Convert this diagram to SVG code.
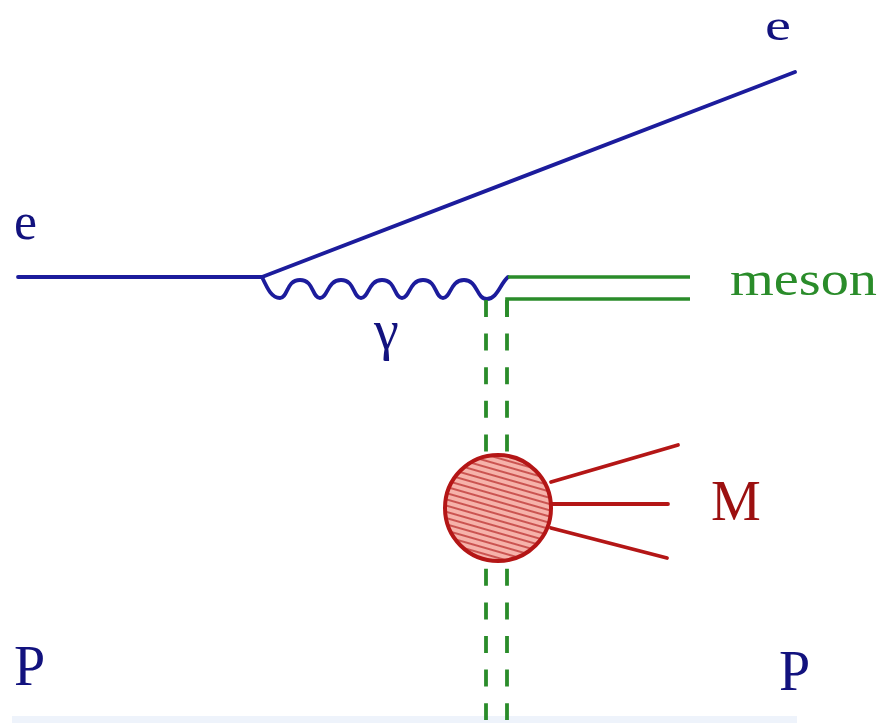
<svg xmlns="http://www.w3.org/2000/svg" width="879" height="723" viewBox="0 0 879 723">
<style>
.blue{stroke:#1c1c9c;stroke-width:3.8;fill:none;stroke-linecap:round;stroke-linejoin:round}
.green{stroke:#2a8c2a;stroke-width:3.6;fill:none}
.dash{stroke:#2a8c2a;stroke-width:3.8;fill:none;stroke-dasharray:17 16.6}
.red{stroke:#b41616;stroke-width:3.8;fill:none;stroke-linecap:round}
.lbl{font-family:"Liberation Serif","Times New Roman",serif}
.navy{fill:#12127e}
</style>
<defs>
<pattern id="hatch" width="6" height="6" patternUnits="userSpaceOnUse" patternTransform="rotate(16)">
<rect width="6" height="6" fill="#f6b2aa"/>
<line x1="0" y1="3" x2="6" y2="3" stroke="#b42020" stroke-width="1.3"/>
</pattern>
</defs>
<rect x="12" y="716" width="785" height="7" fill="#eef3fb"/>
<g id="connectors">
<line id="e-in" class="blue" x1="18" y1="277" x2="262" y2="277"/>
<line id="e-out" class="blue" x1="262" y1="277" x2="795" y2="72"/>
<path id="photon" class="blue" d="M262,277 C268,290 272,298 280,298 C288,298 286,280 300,280 C314,280 312,298 320,298 C328,298 327,280 341,280 C355,280 353,298 361,298 C369,298 368,280 382,280 C396,280 394,298 402,298 C410,298 409,280 423,280 C437,280 435,298 443,298 C451,298 450,280 464,280 C478,280 476,299 487,299 C497,299 500,284 508,277"/>
<line id="meson-top" class="green" x1="508" y1="277" x2="690" y2="277"/>
<path id="meson-inner" class="green" d="M690,299 H507 V317"/>
<line id="pom-left" class="dash" x1="486" y1="300" x2="486" y2="720"/>
<line id="pom-right" class="dash" x1="507" y1="300" x2="507" y2="720"/>
<line id="m1" class="red" x1="551" y1="482" x2="678" y2="445"/>
<line id="m2" class="red" x1="552" y1="504" x2="668" y2="504"/>
<line id="m3" class="red" x1="551" y1="528" x2="667" y2="558"/>
</g>
<g id="blob">
<circle cx="498" cy="508" r="53" fill="url(#hatch)" stroke="#b41616" stroke-width="4"/>
</g>
<g id="labels">
<text id="e-in-label" class="lbl navy" x="14" y="239" font-size="52" textLength="23" lengthAdjust="spacingAndGlyphs">e</text>
<text id="e-out-label" class="lbl navy" x="765" y="40" font-size="44" textLength="26" lengthAdjust="spacingAndGlyphs">e</text>
<text id="meson-label" class="lbl" x="730" y="295" font-size="48" fill="#2a8c2a" textLength="147" lengthAdjust="spacingAndGlyphs">meson</text>
<text id="gamma-label" class="lbl navy" x="374" y="349" font-size="56">γ</text>
<text id="M-label" class="lbl" x="711" y="520" font-size="56" fill="#9c1010">M</text>
<text id="P-left" class="lbl navy" x="14" y="685" font-size="56">P</text>
<text id="P-right" class="lbl navy" x="779" y="690" font-size="56">P</text>
</g>
</svg>
